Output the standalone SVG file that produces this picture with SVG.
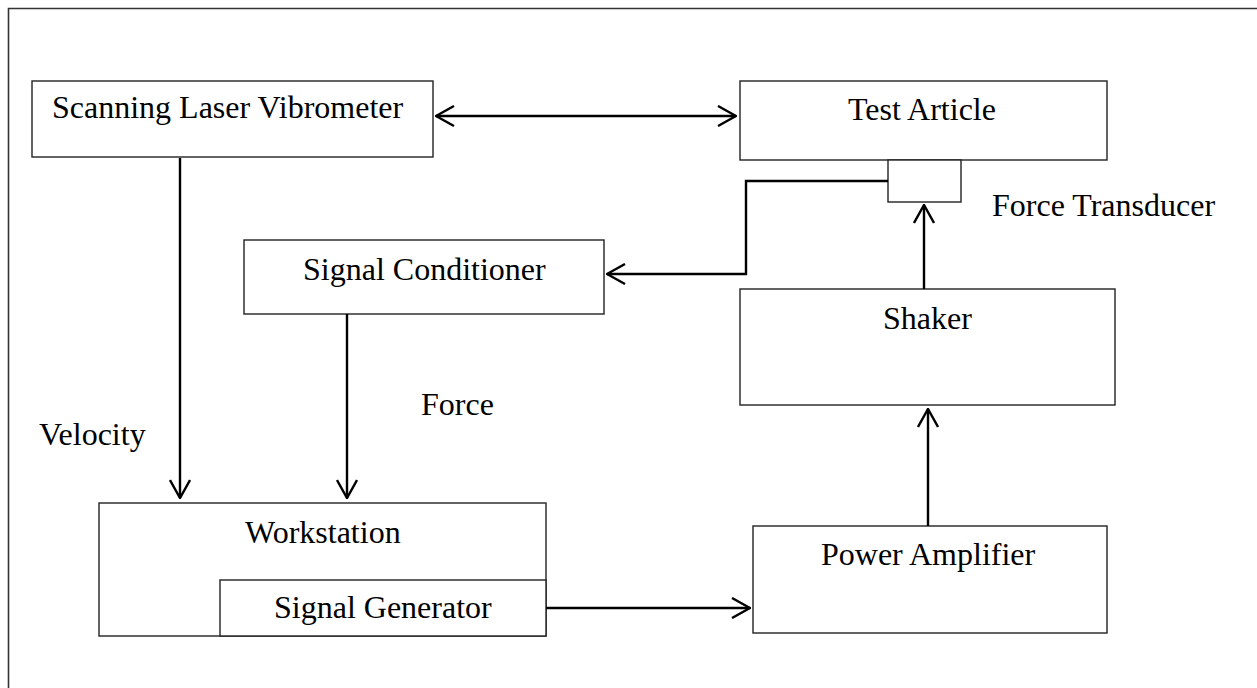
<svg xmlns="http://www.w3.org/2000/svg" width="1257" height="688" viewBox="0 0 1257 688">
<style>
.box{fill:#fff;stroke:#222;stroke-width:1.4}
.lbl{font-family:"Liberation Serif","Times New Roman",serif;font-size:32px;fill:#000}
.con{fill:none;stroke:#000;stroke-width:2.4}
</style>
<defs>
<marker id="arr" viewBox="0 0 20 22" refX="19" refY="11" markerWidth="20" markerHeight="22" markerUnits="userSpaceOnUse" orient="auto-start-reverse">
<path d="M1,1 L19,11 L1,21" fill="none" stroke="#000" stroke-width="2.4"/>
</marker>
</defs>
<rect x="0" y="0" width="1257" height="688" fill="#fff"/>
<path d="M8.5,700 V8.5 H1270" fill="none" stroke="#333" stroke-width="1.6"/>
<g id="slv"><rect class="box" x="32" y="81" width="401" height="76"/><text class="lbl" x="52" y="118">Scanning Laser Vibrometer</text></g>
<g id="test-article"><rect class="box" x="740" y="81" width="367" height="79"/><text class="lbl" x="848" y="120">Test Article</text></g>
<g id="force-transducer"><rect class="box" x="888" y="160" width="73" height="42"/><text class="lbl" x="992" y="216">Force Transducer</text></g>
<g id="signal-conditioner"><rect class="box" x="244" y="240" width="360" height="74"/><text class="lbl" x="303" y="280">Signal Conditioner</text></g>
<g id="shaker"><rect class="box" x="740" y="289" width="375" height="116"/><text class="lbl" x="883" y="329">Shaker</text></g>
<g id="workstation"><rect class="box" x="99" y="503" width="447" height="133"/><text class="lbl" x="245" y="543">Workstation</text></g>
<g id="signal-generator"><rect class="box" x="220" y="580" width="326" height="56"/><text class="lbl" x="274" y="618">Signal Generator</text></g>
<g id="power-amplifier"><rect class="box" x="753" y="526" width="354" height="107"/><text class="lbl" x="821" y="565">Power Amplifier</text></g>
<g id="labels"><text class="lbl" x="421" y="415">Force</text><text class="lbl" x="39" y="445">Velocity</text></g>
<g id="connectors">
<line class="con" x1="436" y1="116" x2="736" y2="116" marker-start="url(#arr)" marker-end="url(#arr)"/>
<line class="con" x1="180" y1="158" x2="180" y2="498" marker-end="url(#arr)"/>
<path class="con" d="M888,181 H746 V274 H607" marker-end="url(#arr)"/>
<line class="con" x1="347" y1="314" x2="347" y2="498" marker-end="url(#arr)"/>
<line class="con" x1="924" y1="289" x2="924" y2="205" marker-end="url(#arr)"/>
<line class="con" x1="928" y1="526" x2="928" y2="409" marker-end="url(#arr)"/>
<line class="con" x1="546" y1="608" x2="750" y2="608" marker-end="url(#arr)"/>
</g>
</svg>
